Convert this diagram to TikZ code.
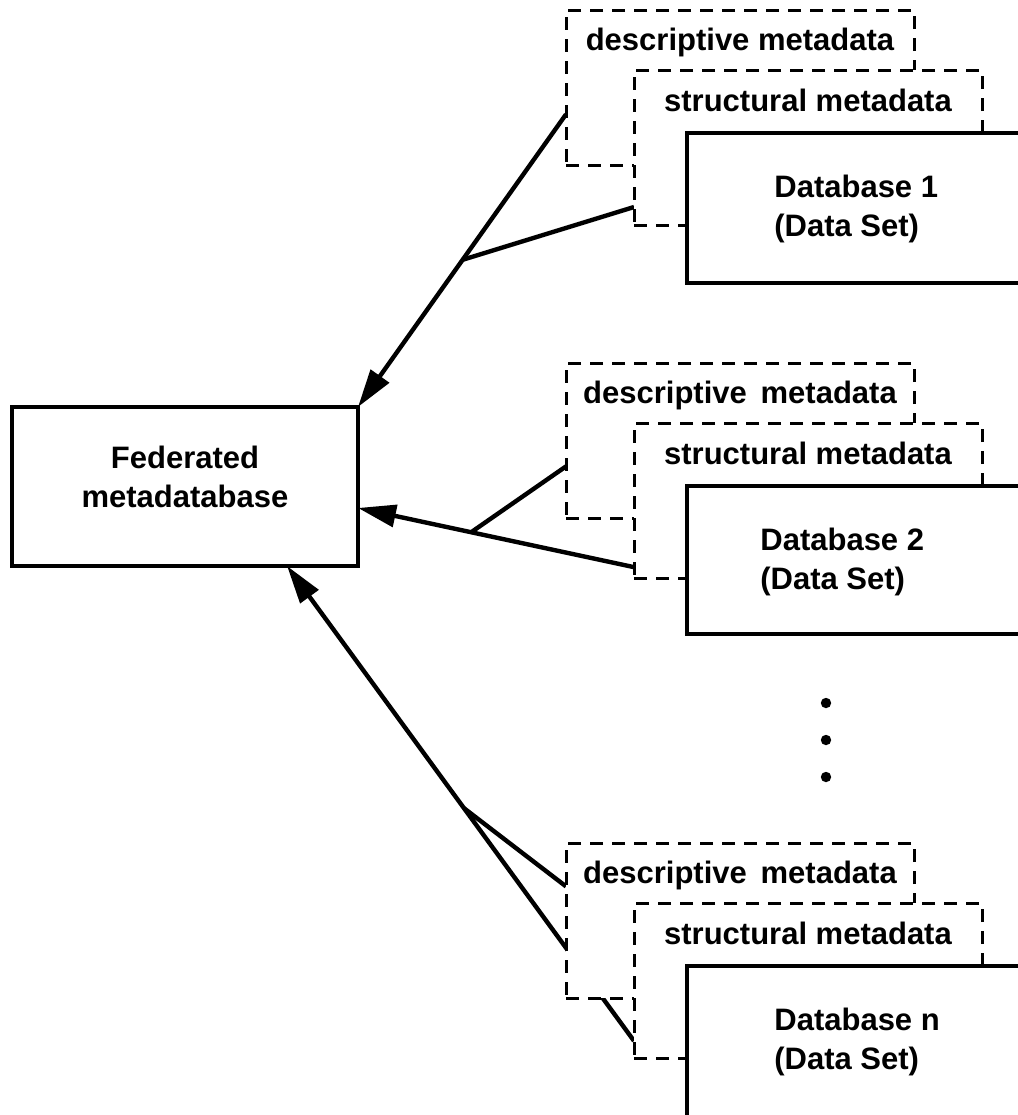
\documentclass[tikz,border=0pt]{standalone}
\usepackage{fontspec}
\setmainfont{Liberation Sans}
\usetikzlibrary{arrows.meta,calc,backgrounds}

\begin{document}
\begin{tikzpicture}[x=0.5pt,y=-0.5pt,
    meta/.style={draw,line width=1.5pt,dash pattern=on 6.5pt off 4.5pt,fill=white,
      minimum width=174pt,minimum height=77.5pt,inner sep=0pt,outer sep=0pt,anchor=north west},
    dbbox/.style={draw,line width=1.8pt,fill=white,minimum width=200pt,
      inner sep=0pt,outer sep=0pt,anchor=north west},
    lbl/.style={font=\bfseries\fontsize{15.5}{19.5}\selectfont,inner sep=0pt},
    feed/.style={line width=2.2pt},
    tip/.style={-{Triangle[length=19pt,width=11pt]}}]
  \useasboundingbox (0,0) rectangle (1018,1115);
  \clip (0,0) rectangle (1018,1115);

  \node[draw,line width=1.8pt,minimum width=173pt,minimum height=79.5pt,
    inner sep=0pt,outer sep=0pt] (fed) at (185,486.5) {};
  \node[lbl,align=center] (fedlbl) at (185,477) {Federated\\metadatabase};

  % metadata and data set stacks
  \foreach \n/\y/\dx/\h/\desc in {1/10/87/75pt/{descriptive metadata},
      2/363/73/74pt/{descriptive\,\ metadata}, n/843/87/90pt/{descriptive\,\ metadata}}
  {
    \node[meta] (desc\n) at (566,\y) {};
    \node[lbl] (desclbl\n) at ([yshift=-16pt]desc\n.north) {\desc};
    \node[meta] (struct\n) at (634,\y+60) {};
    \node[lbl] (structlbl\n) at ([yshift=-15pt]struct\n.north) {structural metadata};
    \node[dbbox,minimum height=\h] (db\n) at (687,\y+123) {};
    \node[lbl,align=left,anchor=west] (dblbl\n)
      at ([xshift=\dx*0.5pt,yshift=-38pt]db\n.north west) {Database \n\\(Data Set)};
  }

  \foreach \y in {703,740,777}
    \fill (826,\y) circle[radius=2.6pt];

  \begin{scope}[on background layer]
    \coordinate (s1) at ($(desc1.north west)!0.673!(desc1.south west)$);
    \coordinate (j1) at ($(s1)!0.497!(fed.north east)$);
    \draw[feed,tip] (s1) -- (fed.north east);
    \draw[feed] (j1) -- ($(struct1.north west)!0.884!(struct1.south west)$);

    \coordinate (s2) at ($(struct2.north west)!0.93!(struct2.south west)$);
    \coordinate (e2) at ($(fed.north east)!0.635!(fed.south east)$);
    \coordinate (j2) at ($(s2)!0.59!(e2)$);
    \draw[feed,tip] (s2) -- (e2);
    \draw[feed] (j2) -- ($(desc2.north west)!0.667!(desc2.south west)$);

    \coordinate (sn) at ($(structn.north west)!0.89!(structn.south west)$);
    \coordinate (en) at ($(fed.south west)!0.795!(fed.south east)$);
    \coordinate (jn) at ($(sn)!0.49!(en)$);
    \draw[feed,tip] (sn) -- (en);
    \draw[feed] (jn) -- ($(descn.north west)!0.28!(descn.south west)$);
  \end{scope}
\end{tikzpicture}
\end{document}
